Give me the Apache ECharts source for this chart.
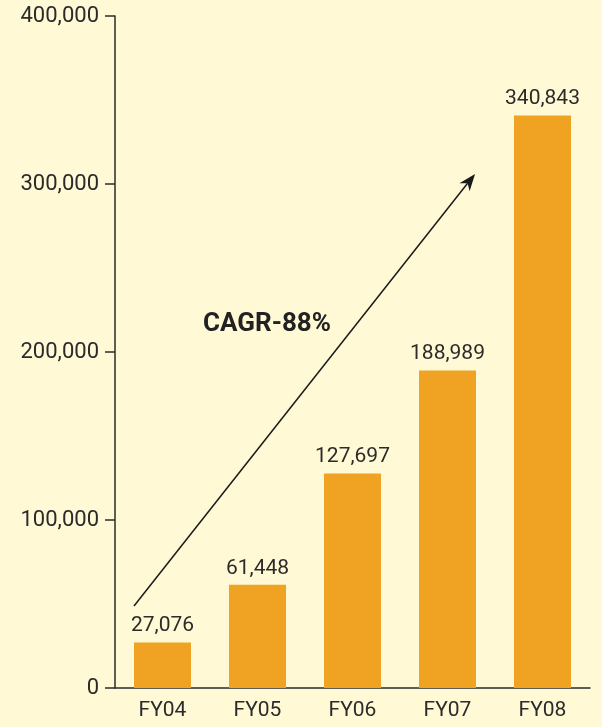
<!DOCTYPE html>
<html>
<head>
<meta charset="utf-8">
<script src="https://cdn.jsdelivr.net/npm/echarts@6/dist/echarts.min.js"></script>
<style>
  html, body { margin: 0; padding: 0; background: #FFF9D6; }
  #chart { width: 602px; height: 727px; }
</style>
</head>
<body>
<div id="chart"></div>
<script>
// data
const years = ['FY04', 'FY05', 'FY06', 'FY07', 'FY08'];
const values = [27076, 61448, 127697, 188989, 340843];
const yTicks = [0, 100000, 200000, 300000, 400000];
const cagrText = 'CAGR-88%';
// arrow anchors: [category index, offset in bands, value]
const arrowFrom = [0, -0.3, 48800];
const arrowTo = [3, 0.29, 306000];

const fontFamily = 'Roboto, "DejaVu Sans", sans-serif';
const ink = '#2b2b2b';

const chart = echarts.init(document.getElementById('chart'));

const option = {
  backgroundColor: '#FFF9D6',
  animation: false,
  textStyle: { fontFamily: fontFamily },
  grid: { left: 115, right: 12, top: 16, bottom: 39, containLabel: false },
  xAxis: {
    type: 'category',
    data: years,
    axisLine: { lineStyle: { color: ink, width: 1.5 } },
    axisTick: { show: false },
    axisLabel: { color: ink, fontSize: 21, margin: 12, fontFamily: fontFamily }
  },
  yAxis: {
    type: 'value',
    min: yTicks[0],
    max: yTicks[yTicks.length - 1],
    interval: yTicks[1] - yTicks[0],
    splitLine: { show: false },
    axisLine: { show: true, lineStyle: { color: ink, width: 1.5 } },
    axisTick: { show: true, length: 10, lineStyle: { color: ink, width: 1.5 } },
    axisLabel: {
      color: ink, fontSize: 22, margin: 16, fontFamily: fontFamily,
      formatter: v => v.toLocaleString('en-US')
    }
  },
  series: [{
    type: 'bar',
    data: values,
    barWidth: '60%',
    itemStyle: { color: '#F0A322' },
    label: {
      show: true,
      position: 'top',
      distance: 6,
      color: ink,
      fontSize: 21,
      fontFamily: fontFamily,
      formatter: p => p.value.toLocaleString('en-US')
    }
  }]
};

chart.setOption(option);

// arrow + CAGR note
function anchorToPixel(a) {
  const c0 = chart.convertToPixel({ xAxisIndex: 0 }, years[a[0]]);
  const c1 = chart.convertToPixel({ xAxisIndex: 0 }, years[1]);
  const cA = chart.convertToPixel({ xAxisIndex: 0 }, years[0]);
  const band = c1 - cA;
  const y = chart.convertToPixel({ yAxisIndex: 0 }, a[2]);
  return [c0 + a[1] * band, y];
}
const p0 = anchorToPixel(arrowFrom);
const p1 = anchorToPixel(arrowTo);
const dx = p1[0] - p0[0], dy = p1[1] - p0[1];
const len = Math.sqrt(dx * dx + dy * dy);
const ux = dx / len, uy = dy / len;
const nx = -uy, ny = ux;
const headLen = 17, headHalf = 6.5, notch = 12;
const head = [
  [p1[0], p1[1]],
  [p1[0] - ux * headLen + nx * headHalf, p1[1] - uy * headLen + ny * headHalf],
  [p1[0] - ux * notch, p1[1] - uy * notch],
  [p1[0] - ux * headLen - nx * headHalf, p1[1] - uy * headLen - ny * headHalf]
];

chart.setOption({
  graphic: [
    {
      type: 'line',
      shape: { x1: p0[0], y1: p0[1], x2: p1[0] - ux * notch, y2: p1[1] - uy * notch },
      style: { stroke: '#1a1a1a', lineWidth: 1.5 },
      silent: true
    },
    {
      type: 'polygon',
      shape: { points: head },
      style: { fill: '#1a1a1a' },
      silent: true
    },
    {
      type: 'text',
      left: 203,
      top: 311,
      style: {
        text: cagrText,
        fill: '#222',
        font: 'bold 26px ' + fontFamily
      },
      silent: true
    }
  ]
});
</script>
</body>
</html>
